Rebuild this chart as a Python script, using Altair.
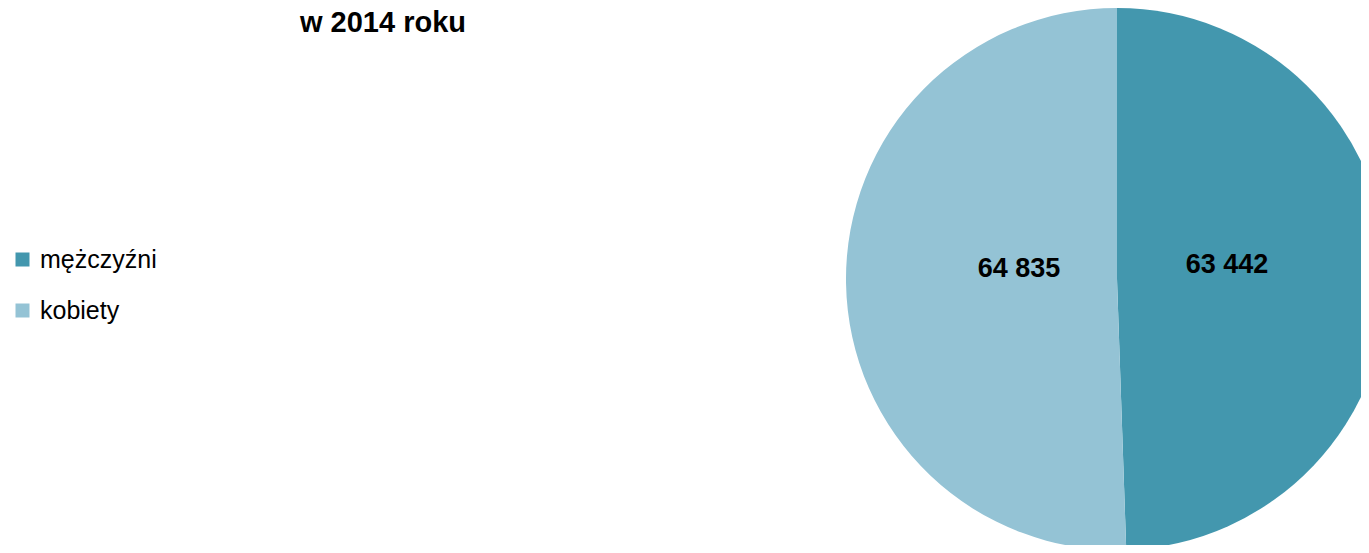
import altair as alt
import pandas as pd

categories = ["mężczyźni", "kobiety"]
values = [63442, 64835]
labels = ["63 442", "64 835"]
order_idx = [0, 1]
colors = ["#4397ae", "#94c3d5"]
title_text = "w 2014 roku"

df = pd.DataFrame({"plec": categories, "liczba": values, "etykieta": labels, "kolejnosc": order_idx})

cx, cy = 1109, 271
R = 271

base = alt.Chart(df).encode(
    theta=alt.Theta("liczba:Q", stack=True),
    order=alt.Order("kolejnosc:Q"),
)

arc = base.mark_arc(radius=R, stroke=None).encode(
    x=alt.value(cx),
    y=alt.value(cy),
    color=alt.Color(
        "plec:N",
        scale=alt.Scale(domain=categories, range=colors),
        sort=categories,
        legend=alt.Legend(
            title=None,
            orient="none",
            legendX=2,
            legendY=239,
            symbolType="square",
            symbolSize=196,
            symbolStrokeWidth=0,
            labelFont="Liberation Sans",
            labelFontSize=25,
            labelColor="#000000",
            labelOffset=5,
            rowPadding=25,
            padding=0,
        ),
    ),
)

text = base.mark_text(
    radius=104, dx=6, dy=-12, font="Liberation Sans", fontSize=27, fontWeight="bold", color="#000000"
).encode(x=alt.value(cx), y=alt.value(cy), text="etykieta:N")

title = alt.Chart(pd.DataFrame({"t": [title_text]})).mark_text(
    font="Liberation Sans", fontSize=29, fontWeight="bold", color="#000000",
    baseline="top", align="center"
).encode(text="t:N", x=alt.value(375), y=alt.value(1))

chart = alt.layer(arc, text, title).properties(
    width=1353, height=537, autosize=alt.AutoSizeParams(type="none"), padding=0
).configure_view(strokeWidth=0)

chart.save("out.html", embed_options={"renderer": "svg", "actions": False})
